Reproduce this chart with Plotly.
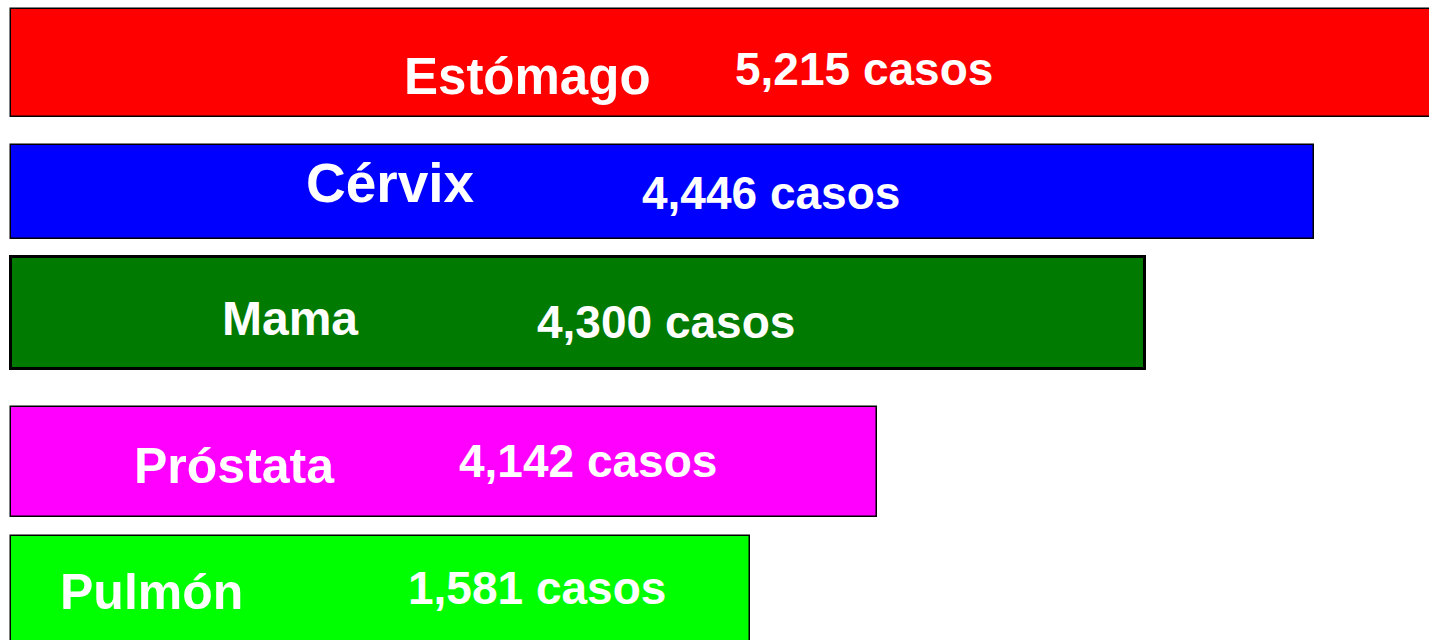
import plotly.graph_objects as go

# ---- data ----
categories = ["Estómago", "Cérvix", "Mama", "Próstata", "Pulmón"]
casos = [5215, 4446, 4300, 4142, 1581]
# bar lengths as drawn in the picture (the drawing is not to scale)
bar_lengths = [1430, 1303, 1134, 866, 739]
colors = ["#FF0000", "#0000FF", "#007A00", "#FF00FF", "#00FF00"]

# ---- layout (pixel-like units) ----
bar_start = 11
bar_centers = [63, 192, 313, 462, 590]
bar_heights = [108, 94, 112, 110, 108]
line_widths = [1.5, 1.5, 3, 1.5, 1.5]
name_x = [527, 390, 290, 234, 151]
name_y = [76, 183, 318, 466, 592]
name_size = [51, 55, 48, 50, 50]
value_x = [864, 771, 666, 588, 537]
value_y = [69, 193, 322, 461, 588]
value_size = 46

fig = go.Figure()
fig.add_trace(go.Bar(
    orientation="h",
    y=bar_centers,
    x=bar_lengths,
    base=bar_start,
    width=bar_heights,
    marker=dict(color=colors, line=dict(color="black", width=line_widths)),
    hoverinfo="skip",
    showlegend=False,
))

font_family = "Arial, Liberation Sans, sans-serif"
for i, cat in enumerate(categories):
    fig.add_annotation(x=name_x[i], y=name_y[i], text=f"<b>{cat}</b>", showarrow=False,
                       xanchor="center", yanchor="middle",
                       font=dict(family=font_family, size=name_size[i], color="white"))
    fig.add_annotation(x=value_x[i], y=value_y[i], text=f"<b>{casos[i]:,} casos</b>", showarrow=False,
                       xanchor="center", yanchor="middle",
                       font=dict(family=font_family, size=value_size, color="white"))

fig.update_layout(
    width=1429, height=640,
    margin=dict(l=0, r=0, t=0, b=0),
    paper_bgcolor="white", plot_bgcolor="white",
    xaxis=dict(range=[0, 1429], visible=False, fixedrange=True),
    yaxis=dict(range=[640, 0], visible=False, fixedrange=True),
    bargap=0,
)

fig.write_html("out.html")
